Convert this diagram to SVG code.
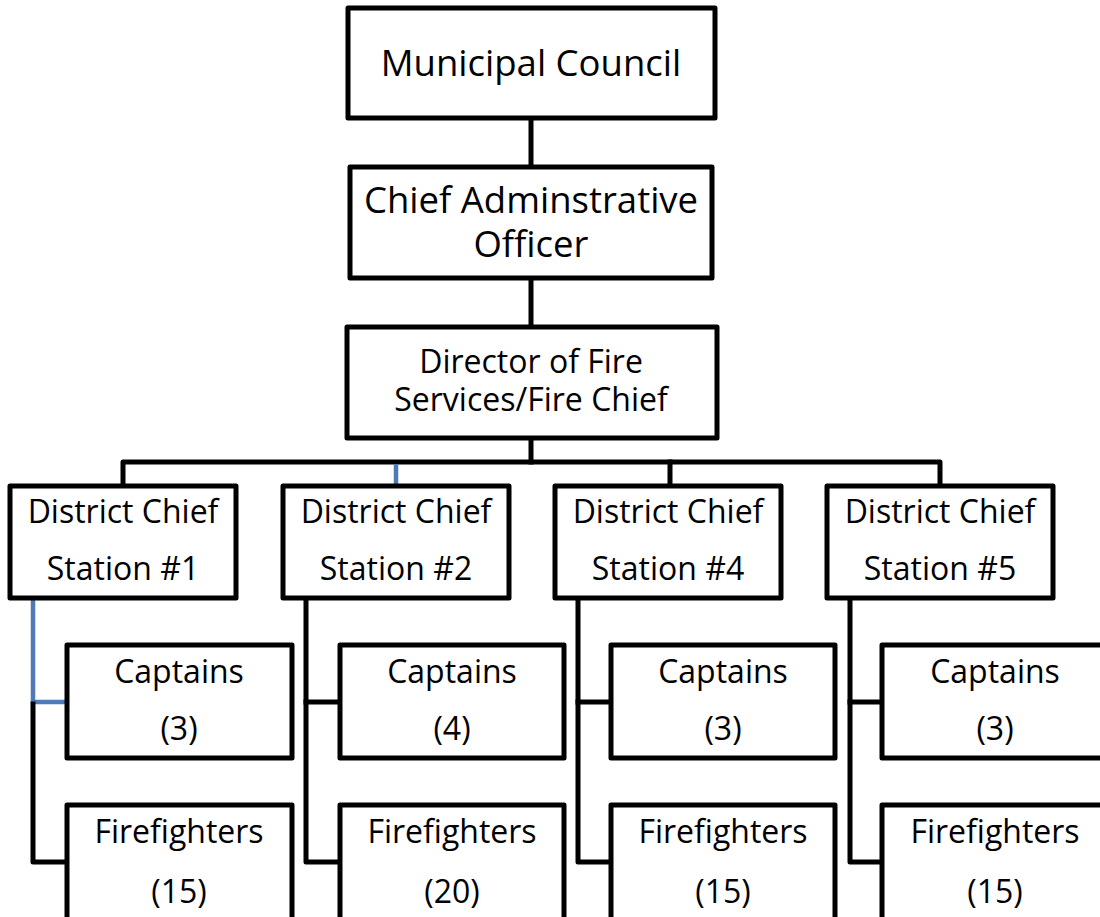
<svg xmlns="http://www.w3.org/2000/svg" width="1100" height="917" viewBox="0 0 1100 917">
<style>
.box{fill:#fff;stroke:#000;stroke-width:5;stroke-linejoin:round}
.ln{fill:none;stroke:#000;stroke-width:5;stroke-linejoin:round;stroke-linecap:square}
.bl{fill:none;stroke:#4F7AB5;stroke-width:4.5;stroke-linecap:butt}
text{font-family:"Open Sans","Liberation Sans",sans-serif;fill:#000;text-anchor:middle}
.t1{font-size:36.5px}
.t2{font-size:32px}
</style>
<rect width="1100" height="917" fill="#fff"/>
<g id="connectors">
<line class="ln" x1="531" y1="118" x2="531" y2="167"/>
<line class="ln" x1="531" y1="278" x2="531" y2="327"/>
<line class="ln" x1="531" y1="438" x2="531" y2="462"/>
<polyline class="ln" points="123,486 123,462 940,462 940,486"/>
<line class="ln" x1="670" y1="462" x2="670" y2="486"/>
<line class="bl" x1="396" y1="464" x2="396" y2="486"/>
<line class="bl" x1="33" y1="598" x2="33" y2="702"/>
<line class="bl" x1="31" y1="702" x2="67" y2="702"/>
<polyline class="ln" points="33,704 33,862 67,862"/>
<polyline class="ln" points="306,598 306,862 340,862"/>
<line class="ln" x1="306" y1="702" x2="340" y2="702"/>
<polyline class="ln" points="578,598 578,862 611,862"/>
<line class="ln" x1="578" y1="702" x2="611" y2="702"/>
<polyline class="ln" points="850,598 850,862 882,862"/>
<line class="ln" x1="850" y1="702" x2="882" y2="702"/>
</g>
<g id="municipal-council"><rect class="box" x="348" y="8" width="367" height="110"/><text class="t1" x="531" y="76">Municipal Council</text></g>
<g id="cao"><rect class="box" x="350" y="167" width="362" height="111"/><text class="t1" x="531" y="213">Chief Adminstrative</text><text class="t1" x="531" y="257">Officer</text></g>
<g id="director"><rect class="box" x="347" y="327" width="370" height="111"/><text class="t2" x="531" y="373">Director of Fire</text><text class="t2" x="531" y="411">Services/Fire Chief</text></g>
<g id="dc1"><rect class="box" x="10" y="486" width="226" height="112"/><text class="t2" x="123" y="523">District Chief</text><text class="t2" x="123" y="580">Station #1</text></g>
<g id="dc2"><rect class="box" x="283" y="486" width="226" height="112"/><text class="t2" x="396" y="523">District Chief</text><text class="t2" x="396" y="580">Station #2</text></g>
<g id="dc4"><rect class="box" x="555" y="486" width="226" height="112"/><text class="t2" x="668" y="523">District Chief</text><text class="t2" x="668" y="580">Station #4</text></g>
<g id="dc5"><rect class="box" x="827" y="486" width="226" height="112"/><text class="t2" x="940" y="523">District Chief</text><text class="t2" x="940" y="580">Station #5</text></g>
<g id="cap1"><rect class="box" x="67" y="645" width="225" height="113"/><text class="t2" x="179" y="683">Captains</text><text class="t2" x="179" y="740">(3)</text></g>
<g id="cap2"><rect class="box" x="340" y="645" width="224" height="113"/><text class="t2" x="452" y="683">Captains</text><text class="t2" x="452" y="740">(4)</text></g>
<g id="cap4"><rect class="box" x="611" y="645" width="224" height="113"/><text class="t2" x="723" y="683">Captains</text><text class="t2" x="723" y="740">(3)</text></g>
<g id="cap5"><rect class="box" x="882" y="645" width="226" height="113"/><text class="t2" x="995" y="683">Captains</text><text class="t2" x="995" y="740">(3)</text></g>
<g id="ff1"><rect class="box" x="67" y="805" width="225" height="130"/><text class="t2" x="179" y="843">Firefighters</text><text class="t2" x="179" y="903">(15)</text></g>
<g id="ff2"><rect class="box" x="340" y="805" width="224" height="130"/><text class="t2" x="452" y="843">Firefighters</text><text class="t2" x="452" y="903">(20)</text></g>
<g id="ff4"><rect class="box" x="611" y="805" width="224" height="130"/><text class="t2" x="723" y="843">Firefighters</text><text class="t2" x="723" y="903">(15)</text></g>
<g id="ff5"><rect class="box" x="882" y="805" width="226" height="130"/><text class="t2" x="995" y="843">Firefighters</text><text class="t2" x="995" y="903">(15)</text></g>
</svg>
